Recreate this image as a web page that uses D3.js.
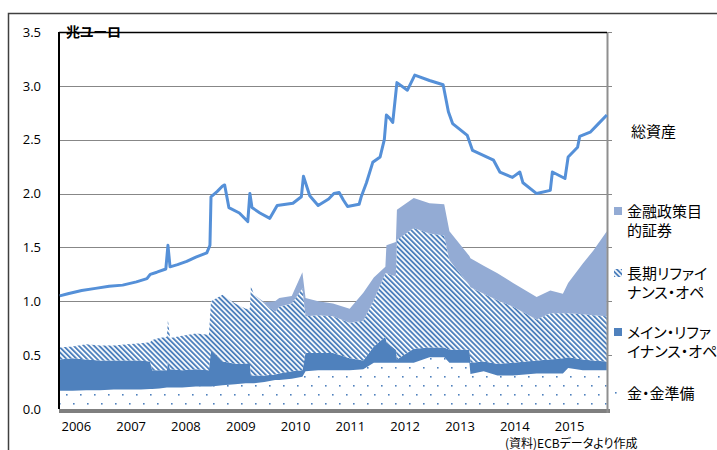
<!DOCTYPE html>
<html>
<head>
<meta charset="utf-8">
<script src="https://cdn.jsdelivr.net/npm/d3@7"></script>
<style>
    body { margin: 0; background: #fff; }
    svg { display: block; }
    .jp { font-feature-settings: "palt"; }
</style>
</head>
<body>
<svg id="chart" width="717" height="450"></svg>
<script>
// stacked balance sheet items (trillion euro), sampled dates
const dates = [
    "2006-01-02", "2006-04-01", "2006-07-01", "2006-10-01", "2007-01-01", "2007-04-01",
    "2007-07-01", "2007-08-31", "2007-09-14", "2007-11-01", "2007-12-21", "2007-12-28",
    "2008-01-11", "2008-04-01", "2008-07-01", "2008-09-26", "2008-10-10", "2008-12-26",
    "2009-03-20", "2009-05-29", "2009-06-26", "2009-07-03", "2009-07-24", "2009-10-01",
    "2009-12-11", "2010-01-08", "2010-04-01", "2010-06-11", "2010-07-02", "2010-09-24",
    "2011-01-01", "2011-04-22", "2011-07-22", "2011-09-30", "2011-12-16", "2011-12-23",
    "2012-02-24", "2012-03-02", "2012-06-22", "2012-10-05", "2013-01-11", "2013-02-15",
    "2013-06-28", "2013-07-05", "2013-10-01", "2014-01-01", "2014-04-15", "2014-09-19",
    "2014-12-19", "2015-03-13", "2015-04-17", "2015-07-24", "2015-10-01", "2015-12-31"
];
const gold = [
    0.17, 0.17, 0.175, 0.175, 0.18, 0.18, 0.18, 0.185, 0.185, 0.19, 0.20, 0.20,
    0.20, 0.20, 0.21, 0.21, 0.21, 0.22, 0.23, 0.24, 0.24, 0.24, 0.24, 0.25,
    0.27, 0.27, 0.28, 0.30, 0.35, 0.36, 0.36, 0.36, 0.37, 0.43, 0.43, 0.43,
    0.43, 0.43, 0.43, 0.48, 0.48, 0.43, 0.43, 0.325, 0.35, 0.31, 0.31, 0.33,
    0.33, 0.33, 0.38, 0.36, 0.36, 0.36
];
const mro = [
    0.29, 0.30, 0.285, 0.275, 0.27, 0.27, 0.27, 0.255, 0.175, 0.17, 0.16, 0.25,
    0.17, 0.16, 0.16, 0.15, 0.34, 0.22, 0.19, 0.18, 0.19, 0.07, 0.07, 0.06,
    0.05, 0.06, 0.07, 0.06, 0.17, 0.16, 0.16, 0.11, 0.08, 0.15, 0.24, 0.19,
    0.12, 0.03, 0.13, 0.09, 0.09, 0.12, 0.12, 0.105, 0.09, 0.11, 0.12, 0.12,
    0.13, 0.14, 0.10, 0.10, 0.09, 0.08
];
const ltro = [
    0.11, 0.11, 0.14, 0.14, 0.14, 0.15, 0.16, 0.18, 0.28, 0.30, 0.31, 0.38,
    0.29, 0.32, 0.33, 0.33, 0.45, 0.62, 0.56, 0.51, 0.50, 0.83, 0.75, 0.67,
    0.58, 0.62, 0.63, 0.76, 0.34, 0.35, 0.34, 0.33, 0.37, 0.43, 0.59, 0.64,
    0.68, 1.11, 1.12, 1.06, 1.04, 0.83, 0.60, 0.70, 0.63, 0.59, 0.52, 0.38,
    0.43, 0.42, 0.41, 0.42, 0.42, 0.42
];
const securities = [
    0, 0, 0, 0, 0, 0, 0, 0, 0, 0, 0, 0,
    0, 0, 0, 0, 0, 0, 0, 0, 0, 0, 0, 0.01,
    0.10, 0.08, 0.07, 0.15, 0.17, 0.13, 0.12, 0.13, 0.26, 0.21, 0.06, 0.26,
    0.32, 0.28, 0.28, 0.28, 0.29, 0.27, 0.27, 0.27, 0.26, 0.25, 0.22, 0.21,
    0.21, 0.18, 0.28, 0.47, 0.60, 0.79
];

// total assets line
const assetDates = [
    "2006-01-06", "2006-03-01", "2006-06-01", "2006-09-01", "2006-12-01", "2007-03-01",
    "2007-06-01", "2007-08-10", "2007-09-01", "2007-10-15", "2007-12-14", "2007-12-28",
    "2008-01-11", "2008-03-01", "2008-05-01", "2008-07-01", "2008-09-12", "2008-10-03",
    "2008-10-10", "2008-11-21", "2008-12-26", "2009-01-09", "2009-02-06", "2009-04-17",
    "2009-06-12", "2009-06-26", "2009-07-10", "2009-09-01", "2009-11-06", "2009-12-25",
    "2010-04-09", "2010-06-04", "2010-06-18", "2010-07-30", "2010-09-24", "2010-12-03",
    "2011-01-07", "2011-02-11", "2011-03-11", "2011-04-08", "2011-06-24", "2011-07-08",
    "2011-08-12", "2011-09-23", "2011-11-11", "2011-12-09", "2011-12-23", "2012-01-13",
    "2012-02-03", "2012-03-02", "2012-05-11", "2012-06-29", "2012-10-05", "2013-01-04",
    "2013-02-08", "2013-03-08", "2013-06-14", "2013-07-19", "2013-12-06", "2014-01-17",
    "2014-04-11", "2014-05-30", "2014-06-20", "2014-09-19", "2014-12-19", "2015-01-02",
    "2015-03-27", "2015-04-17", "2015-06-19", "2015-07-03", "2015-09-11", "2015-10-30",
    "2015-12-31"
];
const assets = [
    1.05, 1.07, 1.10, 1.12, 1.14, 1.15,
    1.18, 1.21, 1.25, 1.27, 1.30, 1.52,
    1.32, 1.34, 1.37, 1.41, 1.45, 1.52,
    1.97, 2.02, 2.07, 2.08, 1.87, 1.82,
    1.74, 2.00, 1.87, 1.82, 1.77, 1.89,
    1.91, 1.97, 2.16, 1.98, 1.89, 1.95,
    2.00, 2.01, 1.94, 1.88, 1.90, 1.97,
    2.10, 2.29, 2.34, 2.50, 2.73, 2.70,
    2.66, 3.03, 2.96, 3.10, 3.05, 3.01,
    2.76, 2.65, 2.54, 2.40, 2.31, 2.20,
    2.15, 2.20, 2.10, 2.00, 2.03, 2.20,
    2.14, 2.34, 2.43, 2.53, 2.57, 2.64,
    2.73
];

const yTicks = [0, 0.5, 1.0, 1.5, 2.0, 2.5, 3.0, 3.5];
const xYears = [2006, 2007, 2008, 2009, 2010, 2011, 2012, 2013, 2014, 2015];

const draw = () => {
    let svgWidth = 717;
    let svgHeight = 450;
    let margin = { top: 32, left: 59 };
    let width = 548;
    let height = 377;
    let numFont = "'Open Sans', 'DejaVu Sans', sans-serif";
    let jpFont = "'Noto Sans CJK JP', sans-serif";
    const parse = d3.timeParse("%Y-%m-%d");

    let svg = d3.select("#chart");

    // outer frame of the figure
    svg.append("path")
        .attr("d", "M8.5," + svgHeight + "V13.5H" + svgWidth)
        .attr("fill", "none")
        .attr("stroke", "#404040")
        .attr("stroke-width", 1.5);

    // fill patterns
    let defs = svg.append("defs");
    let dots = defs.append("pattern")
        .attr("id", "dots")
        .attr("patternUnits", "userSpaceOnUse")
        .attr("width", 14)
        .attr("height", 18)
        .attr("x", margin.left + 4)
        .attr("y", 2);
    dots.append("rect").attr("width", 14).attr("height", 18).attr("fill", "#fff");
    dots.append("rect").attr("x", 0).attr("y", 0).attr("width", 1.6).attr("height", 1.6).attr("fill", "#4f81bd");
    dots.append("rect").attr("x", 7).attr("y", 9).attr("width", 1.6).attr("height", 1.6).attr("fill", "#4f81bd");

    let stripes = defs.append("pattern")
        .attr("id", "stripes")
        .attr("patternUnits", "userSpaceOnUse")
        .attr("width", 3.6)
        .attr("height", 10)
        .attr("patternTransform", "rotate(-45)");
    stripes.append("rect").attr("width", 3.6).attr("height", 10).attr("fill", "#fff");
    stripes.append("rect").attr("width", 1.9).attr("height", 10).attr("fill", "#4f81bd");

    let x = d3.scaleTime()
        .domain([new Date(2006, 0, 1), new Date(2016, 0, 1)])
        .range([0, width]);
    let y = d3.scaleLinear().domain([0, 3.5]).range([height, 0]);

    let g = svg.append("g")
        .attr("transform", "translate(" + margin.left + "," + margin.top + ")");

    // gridlines
    g.append("g")
        .selectAll("line")
        .data(yTicks.filter((d) => d > 0))
        .enter()
        .append("line")
        .attr("x1", 0)
        .attr("x2", width + 5)
        .attr("y1", (d) => Math.round(y(d)) + 0.5)
        .attr("y2", (d) => Math.round(y(d)) + 0.5)
        .attr("stroke", "#878787")
        .attr("stroke-width", 1);

    // stacked areas
    let table = dates.map((d, i) => ({
        date: parse(d),
        gold: gold[i],
        mro: mro[i],
        ltro: ltro[i],
        securities: securities[i],
    }));
    let keys = ["gold", "mro", "ltro", "securities"];
    let fills = {
        gold: "url(#dots)",
        mro: "#4f81bd",
        ltro: "url(#stripes)",
        securities: "#93abd4",
    };
    let stacked = d3.stack().keys(keys)(table);
    let area = d3.area()
        .x((d) => x(d.data.date))
        .y0((d) => y(d[0]))
        .y1((d) => y(d[1]));

    g.selectAll(".layer")
        .data(stacked)
        .enter()
        .append("path")
        .attr("class", "layer")
        .attr("d", area)
        .attr("fill", (d) => fills[d.key]);

    // floor and walls
    g.append("rect")
        .attr("x", 0)
        .attr("y", height)
        .attr("width", width + 3)
        .attr("height", 4)
        .attr("fill", "#7f7f7f");
    g.append("line")
        .attr("x1", width + 0.5).attr("x2", width + 0.5)
        .attr("y1", 0).attr("y2", height + 4)
        .attr("stroke", "#8f8f8f")
        .attr("stroke-width", 2);
    g.append("line")
        .attr("x1", 0).attr("x2", width)
        .attr("y1", 0.5).attr("y2", 0.5)
        .attr("stroke", "#000")
        .attr("stroke-width", 1.5);
    g.append("line")
        .attr("x1", 0).attr("x2", 0)
        .attr("y1", 0).attr("y2", height)
        .attr("stroke", "#000")
        .attr("stroke-width", 2);

    // total assets line
    let assetRows = assetDates.map((d, i) => ({ date: parse(d), v: assets[i] }));
    let line = d3.line()
        .x((d) => x(d.date))
        .y((d) => y(d.v));
    g.append("path")
        .datum(assetRows)
        .attr("d", line)
        .attr("fill", "none")
        .attr("stroke", "#5590d8")
        .attr("stroke-width", 3)
        .attr("stroke-linejoin", "round");

    // y axis labels
    let yAxis = g.append("g")
        .call(d3.axisLeft(y).tickValues(yTicks).tickFormat(d3.format(".1f")).tickSize(0).tickPadding(18));
    yAxis.select(".domain").remove();
    yAxis.selectAll("text")
        .attr("font-family", numFont)
        .attr("font-size", "13px")
        .attr("fill", "#000");

    // x axis labels, left aligned at each year start
    let xAxis = g.append("g")
        .attr("transform", "translate(0," + height + ")")
        .call(d3.axisBottom(x)
            .tickValues(xYears.map((d) => new Date(d, 0, 1)))
            .tickFormat(d3.timeFormat("%Y"))
            .tickSize(0)
            .tickPadding(13));
    xAxis.select(".domain").remove();
    xAxis.selectAll("text")
        .attr("text-anchor", "start")
        .attr("dx", 2)
        .attr("font-family", numFont)
        .attr("font-size", "13px")
        .attr("fill", "#000");

    // unit label
    svg.append("text")
        .attr("class", "jp")
        .text("兆ユーロ")
        .attr("x", 66)
        .attr("y", 37)
        .attr("font-family", jpFont)
        .attr("font-weight", "bold")
        .attr("font-size", "14px")
        .attr("fill", "#000");

    // legend
    svg.append("text")
        .attr("class", "jp")
        .text("総資産")
        .attr("x", 631)
        .attr("y", 137)
        .attr("font-family", jpFont)
        .attr("font-size", "15px")
        .attr("fill", "#000");

    let legend = [
        { lines: ["金融政策目", "的証券"], fill: "#93abd4", y: 211 },
        { lines: ["長期リファイ", "ナンス・オペ"], fill: "url(#stripes)", y: 273 },
        { lines: ["メイン・リファ", "イナンス・オペ"], fill: "#4f81bd", y: 332 },
        { lines: ["金・金準備"], fill: "dot", y: 393 },
    ];
    legend.forEach((item) => {
        if (item.fill === "dot") {
            svg.append("rect")
                .attr("x", 615).attr("y", item.y - 1)
                .attr("width", 1.6).attr("height", 1.6)
                .attr("fill", "#4f81bd");
        } else {
            svg.append("rect")
                .attr("x", 614).attr("y", item.y - 4)
                .attr("width", 8).attr("height", 8)
                .attr("fill", item.fill);
        }
        item.lines.forEach((t, j) => {
            svg.append("text")
                .attr("class", "jp")
                .text(t)
                .attr("x", 627)
                .attr("y", item.y + 6 + j * 19)
                .attr("font-family", jpFont)
                .attr("font-size", "15px")
                .attr("fill", "#000");
        });
    });

    // source note
    svg.append("text")
        .attr("class", "jp")
        .text("(資料)ECBデータより作成")
        .attr("x", 505)
        .attr("y", 448)
        .attr("font-family", jpFont)
        .attr("font-size", "12px")
        .attr("fill", "#000");
};

draw();
</script>
</body>
</html>
